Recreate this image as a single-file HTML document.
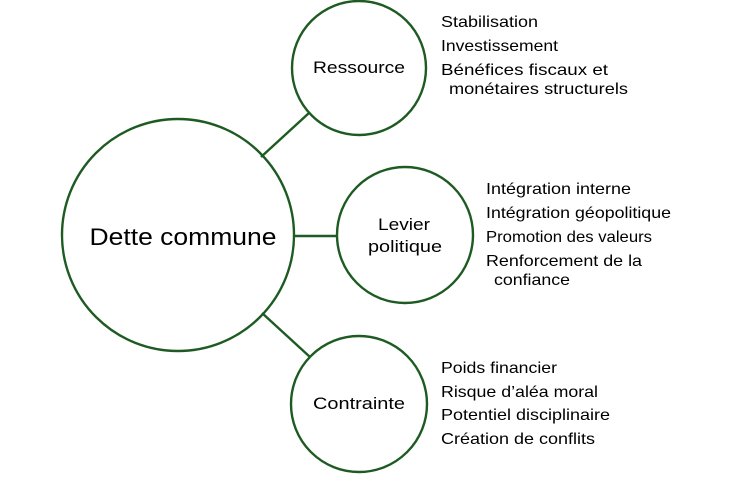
<!DOCTYPE html>
<html><head><meta charset="utf-8"><style>
body{margin:0;width:756px;height:475px;background:#fff;overflow:hidden}
</style></head><body>
<svg width="756" height="475" xmlns="http://www.w3.org/2000/svg" font-family="Liberation Sans, sans-serif">
<g stroke="#1e5b22" stroke-width="2.4" fill="none">
<circle cx="178" cy="235" r="116"/>
<circle cx="359" cy="68" r="67"/>
<circle cx="405" cy="235" r="68"/>
<circle cx="359" cy="404" r="68"/>
<line x1="261" y1="157" x2="309" y2="113"/>
<line x1="293" y1="236" x2="337" y2="236"/>
<line x1="262" y1="313" x2="310" y2="357"/>
</g>
<g fill="#000" text-anchor="middle">
<text x="183" y="245" font-size="24" textLength="187" lengthAdjust="spacingAndGlyphs">Dette commune</text>
<text x="359" y="73" font-size="17" textLength="92" lengthAdjust="spacingAndGlyphs">Ressource</text>
<text x="404" y="230" font-size="17" textLength="52" lengthAdjust="spacingAndGlyphs">Levier</text>
<text x="405" y="252" font-size="17" textLength="74" lengthAdjust="spacingAndGlyphs">politique</text>
<text x="359" y="409" font-size="17" textLength="92" lengthAdjust="spacingAndGlyphs">Contrainte</text>
</g>
<g fill="#000" font-size="16">
<text x="441" y="27" textLength="97" lengthAdjust="spacingAndGlyphs">Stabilisation</text>
<text x="441" y="51" textLength="117" lengthAdjust="spacingAndGlyphs">Investissement</text>
<text x="441" y="75" textLength="167" lengthAdjust="spacingAndGlyphs">Bénéfices fiscaux et</text>
<text x="449" y="94" textLength="179" lengthAdjust="spacingAndGlyphs">monétaires structurels</text>
<text x="486" y="194" textLength="145" lengthAdjust="spacingAndGlyphs">Intégration interne</text>
<text x="486" y="218" textLength="185" lengthAdjust="spacingAndGlyphs">Intégration géopolitique</text>
<text x="486" y="242" textLength="166" lengthAdjust="spacingAndGlyphs">Promotion des valeurs</text>
<text x="486" y="266" textLength="156" lengthAdjust="spacingAndGlyphs">Renforcement de la</text>
<text x="494" y="285" textLength="76" lengthAdjust="spacingAndGlyphs">confiance</text>
<text x="441" y="373" textLength="116" lengthAdjust="spacingAndGlyphs">Poids financier</text>
<text x="441" y="397" textLength="157" lengthAdjust="spacingAndGlyphs">Risque d’aléa moral</text>
<text x="441" y="420" textLength="169" lengthAdjust="spacingAndGlyphs">Potentiel disciplinaire</text>
<text x="441" y="444" textLength="154" lengthAdjust="spacingAndGlyphs">Création de conflits</text>
</g>
</svg>
</body></html>
